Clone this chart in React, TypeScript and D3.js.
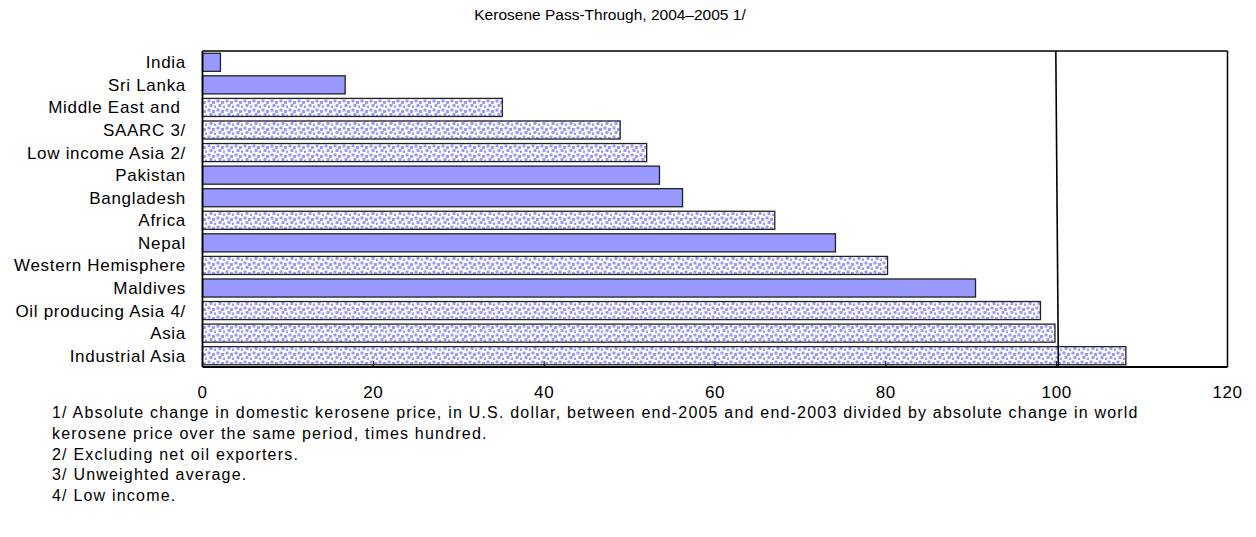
import React from "react";
import * as d3 from "d3";

const categories = [
  "India", "Sri Lanka", "Middle East and ", "SAARC 3/", "Low income Asia 2/", "Pakistan",
  "Bangladesh", "Africa", "Nepal", "Western Hemisphere", "Maldives", "Oil producing Asia 4/",
  "Asia", "Industrial Asia",
];
const values = [2.1, 16.7, 35.1, 48.9, 52.0, 53.5, 56.2, 67.0, 74.1, 80.2, 90.5, 98.1, 99.8, 108.1];
const patterned = [false, false, true, true, true, false, false, true, false, true, false, true, true, true];
const xTicks = [0, 20, 40, 60, 80, 100, 120];
const refLine = [99.9, 100.2]; // top, bottom x values of reference line
const title = "Kerosene Pass-Through, 2004\u20132005 1/";
const notes = [
  "1/ Absolute change in domestic kerosene price, in U.S. dollar, between end-2005 and end-2003 divided by absolute change in world",
  "kerosene price over the same period, times hundred.",
  "2/ Excluding net oil exporters.",
  "3/ Unweighted average.",
  "4/ Low income.",
];

export default function App() {
  const W = 1256, H = 537;
  const left = 202.5, right = 1227.5, top = 51, bottom = 367;
  const x = d3.scaleLinear().domain([0, 120]).range([left, right]);
  const y = d3.scaleBand().domain(categories).range([top, bottom]).paddingInner(0.2).paddingOuter(0.1);
  const font = "Liberation Sans, Arial, sans-serif";
  return (
    <svg width={W} height={H} style={{ position: "absolute", left: 0, top: 0, background: "#fff" }}>
      <defs>
        <pattern id="dots" width="9" height="9" patternUnits="userSpaceOnUse">
          <rect width="9" height="9" fill="#fff" />
          <rect x="0.5" y="0.5" width="3" height="3" fill="#9999FF" />
          <rect x="5" y="2" width="3" height="3" fill="#9999FF" />
          <rect x="2.5" y="5" width="3" height="3" fill="#9999FF" />
          <rect x="7" y="6.5" width="3" height="3" fill="#9999FF" />
        </pattern>
      </defs>
      <text x={610} y={20} fontFamily={font} fontSize={15.5} textAnchor="middle" fill="#000">{title}</text>
      {/* frame */}
      <line x1={left} x2={right} y1={top} y2={top} stroke="#000" strokeWidth={1.5} />
      <line x1={right} x2={right} y1={top} y2={bottom} stroke="#000" strokeWidth={1.5} />
      {categories.map((c, i) => (
        <g key={c}>
          <rect
            x={x(0)}
            y={y(c)!}
            width={x(values[i]) - x(0)}
            height={y.bandwidth()}
            fill={patterned[i] ? "url(#dots)" : "#9999FF"}
            stroke="#222"
            strokeWidth={1.3}
          />
          <text x={186} y={y(c)! + y.bandwidth() / 2 + 6} fontFamily={font} fontSize={17} letterSpacing={0.7} textAnchor="end" fill="#000" style={{ whiteSpace: "pre" }}>{c}</text>
        </g>
      ))}
      <line x1={x(refLine[0])} x2={x(refLine[1])} y1={top} y2={bottom} stroke="#000" strokeWidth={1.6} />
      <line x1={left} x2={left} y1={top} y2={bottom} stroke="#000" strokeWidth={1.8} />
      <line x1={left} x2={right} y1={bottom} y2={bottom} stroke="#000" strokeWidth={1.8} />
      {xTicks.map((t) => (
        <g key={t}>
          <line x1={x(t)} x2={x(t)} y1={bottom} y2={bottom - 6} stroke="#000" strokeWidth={1} />
          <text x={x(t)} y={398} fontFamily={font} fontSize={17} letterSpacing={0.6} textAnchor="middle" fill="#000">{t}</text>
        </g>
      ))}
      {notes.map((n, i) => (
        <text key={i} x={52} y={418 + i * 20.8} fontFamily={font} fontSize={16} letterSpacing={1.2} fill="#000">{n}</text>
      ))}
    </svg>
  );
}
